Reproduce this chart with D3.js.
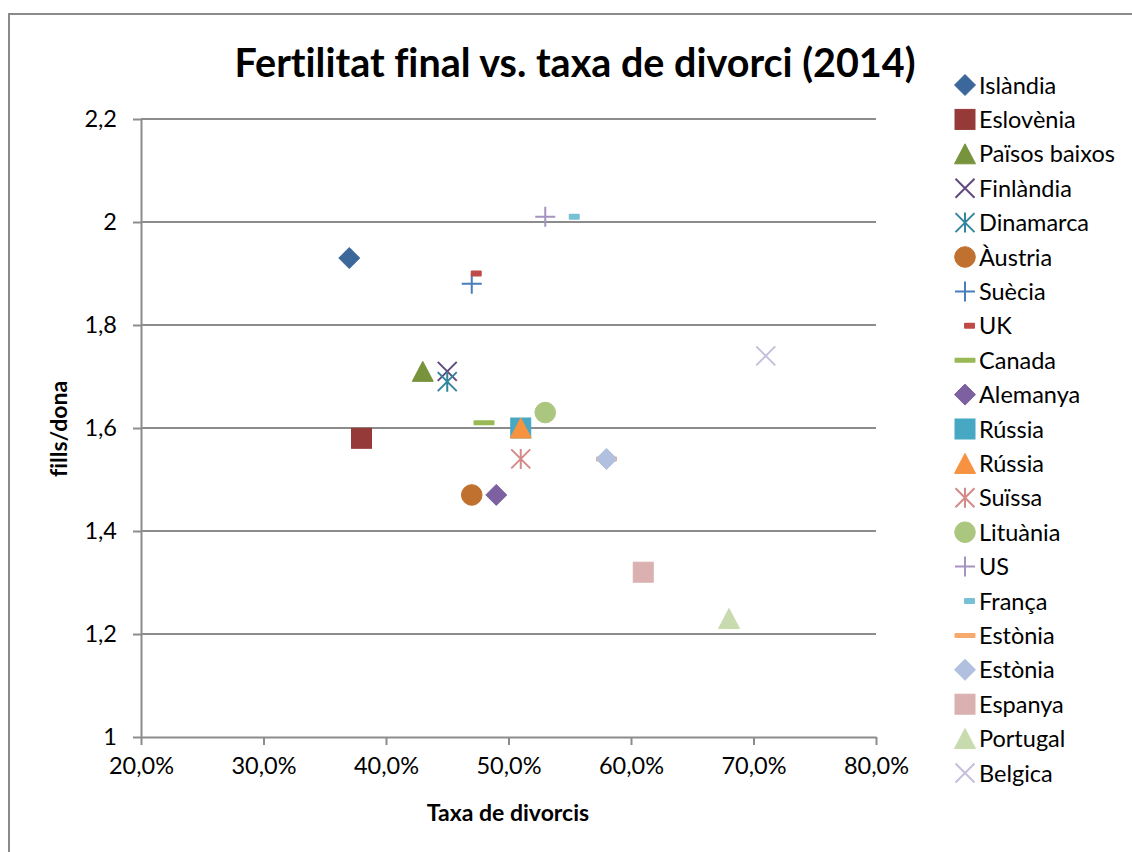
<!DOCTYPE html>
<html>
<head>
<meta charset="utf-8">
<script src="https://cdn.jsdelivr.net/npm/d3@7"></script>
<style>
  body { margin: 0; background: #fff; }
  svg { display: block; font-family: Lato, "Open Sans", sans-serif; font-variant-ligatures: none; }
</style>
</head>
<body>
<svg id="chart" width="1132" height="852"></svg>
<script>
// series, in the order Excel draws them
var countries = ["Islàndia", "Eslovènia", "Països baixos", "Finlàndia", "Dinamarca", "Àustria",
  "Suècia", "UK", "Canada", "Alemanya", "Rússia", "Rússia", "Suïssa", "Lituània", "US",
  "França", "Estònia", "Estònia", "Espanya", "Portugal", "Belgica"];
var divorceRate = [0.37, 0.38, 0.43, 0.45, 0.45, 0.47, 0.47, 0.47, 0.48, 0.49, 0.51, 0.51,
  0.51, 0.53, 0.53, 0.55, 0.58, 0.58, 0.61, 0.68, 0.71];
var fertility = [1.93, 1.58, 1.71, 1.71, 1.69, 1.47, 1.88, 1.90, 1.61, 1.47, 1.60, 1.60,
  1.54, 1.63, 2.01, 2.01, 1.54, 1.54, 1.32, 1.23, 1.74];
var markers = ["diamond", "square", "triangle", "x", "star", "circle", "plus", "dashShort",
  "dashLong", "diamond", "square", "triangle", "star", "circle", "plus", "dashShort",
  "dashLong", "diamond", "square", "triangle", "x"];
var colors = ["#3c679a", "#953a38", "#77933c", "#604a7b", "#31859c", "#c0712f",
  "#4a7ebb", "#be4b48", "#98b954", "#7d60a0", "#46a8c3", "#f69240",
  "#d48a88", "#abc67e", "#a594c0", "#78c0d4", "#f8a96c", "#b0c0de",
  "#dbb0b0", "#c8dbae", "#c6bedb"];

var xTicks = [0.2, 0.3, 0.4, 0.5, 0.6, 0.7, 0.8];
var xTickLabels = ["20,0%", "30,0%", "40,0%", "50,0%", "60,0%", "70,0%", "80,0%"];
var yTicks = [1, 1.2, 1.4, 1.6, 1.8, 2, 2.2];
var yTickLabels = ["1", "1,2", "1,4", "1,6", "1,8", "2", "2,2"];

var svg = d3.select("#chart");
var gridColor = "#8c8c8c";

var x = d3.scaleLinear().domain([0.2, 0.8]).range([141, 876]);
var y = d3.scaleLinear().domain([1, 2.2]).range([737, 119]);

// chart frame
svg.append("rect")
  .attr("x", 9).attr("y", 14)
  .attr("width", 1140).attr("height", 860)
  .attr("fill", "#fff")
  .attr("stroke", "#8a8a8a").attr("stroke-width", 2);

// title
svg.append("text")
  .attr("x", 575).attr("y", 77)
  .attr("text-anchor", "middle")
  .style("font-size", "39.5px").style("font-weight", "bold")
  .text("Fertilitat final vs. taxa de divorci (2014)");

// gridlines
svg.append("g").selectAll("line")
  .data(yTicks.slice(1))
  .enter().append("line")
  .attr("x1", x(0.2)).attr("x2", x(0.8))
  .attr("y1", function(d){ return y(d); })
  .attr("y2", function(d){ return y(d); })
  .attr("stroke", gridColor).attr("stroke-width", 2);

// axes
var yAxis = d3.axisLeft(y)
  .tickValues(yTicks)
  .tickFormat(function(d, i){ return yTickLabels[i]; })
  .tickSizeInner(8).tickSizeOuter(0).tickPadding(16);
var xAxis = d3.axisBottom(x)
  .tickValues(xTicks)
  .tickFormat(function(d, i){ return xTickLabels[i]; })
  .tickSizeInner(8).tickSizeOuter(0).tickPadding(12);

var gy = svg.append("g").attr("transform", "translate(" + x(0.2) + ",0)").call(yAxis);
var gx = svg.append("g").attr("transform", "translate(0," + y(1) + ")").call(xAxis);

[gx, gy].forEach(function(g){
  g.select(".domain").attr("stroke", gridColor).attr("stroke-width", 2);
  g.selectAll(".tick line").attr("stroke", gridColor).attr("stroke-width", 2);
  g.selectAll(".tick text")
    .attr("fill", "#000")
    .style("font-family", "Lato, 'Open Sans', sans-serif")
    .style("font-size", "23.5px");
});

// axis titles
svg.append("text")
  .attr("x", 508).attr("y", 821)
  .attr("text-anchor", "middle")
  .style("font-size", "23px").style("font-weight", "bold")
  .text("Taxa de divorcis");

svg.append("text")
  .attr("transform", "translate(67,429) rotate(-90)")
  .attr("text-anchor", "middle")
  .style("font-size", "23px").style("font-weight", "bold")
  .text("fills/dona");

// marker shapes, drawn around (0,0)
function drawMarker(g, type, color){
  if(type == "diamond"){
    g.append("path").attr("d", "M0,-10.5L10.5,0L0,10.5L-10.5,0Z")
      .attr("fill", color).attr("stroke", color).attr("stroke-width", 1);
  } else if(type == "square"){
    g.append("rect").attr("x", -10).attr("y", -10).attr("width", 20).attr("height", 20)
      .attr("fill", color).attr("stroke", color).attr("stroke-width", 1);
  } else if(type == "triangle"){
    g.append("path").attr("d", "M0,-10L10.5,10L-10.5,10Z")
      .attr("fill", color).attr("stroke", color).attr("stroke-width", 1);
  } else if(type == "circle"){
    g.append("circle").attr("r", 10.3)
      .attr("fill", color).attr("stroke", color).attr("stroke-width", 1);
  } else if(type == "x"){
    g.append("path").attr("d", "M-9.5,-9.5L9.5,9.5M-9.5,9.5L9.5,-9.5")
      .attr("fill", "none").attr("stroke", color).attr("stroke-width", 2);
  } else if(type == "star"){
    g.append("path").attr("d", "M-9.5,-9.5L9.5,9.5M-9.5,9.5L9.5,-9.5M0,-10L0,10")
      .attr("fill", "none").attr("stroke", color).attr("stroke-width", 2);
  } else if(type == "plus"){
    g.append("path").attr("d", "M-10,0L10,0M0,-10L0,10")
      .attr("fill", "none").attr("stroke", color).attr("stroke-width", 2);
  } else if(type == "dashShort"){
    g.append("rect").attr("x", -1).attr("y", -3).attr("width", 11).attr("height", 6)
      .attr("rx", 1).attr("fill", color);
  } else if(type == "dashLong"){
    g.append("rect").attr("x", -10.5).attr("y", -2.5).attr("width", 21).attr("height", 5)
      .attr("rx", 1).attr("fill", color);
  }
}

// points
var points = svg.append("g").selectAll("g")
  .data(countries)
  .enter().append("g")
  .attr("transform", function(d, i){
    return "translate(" + x(divorceRate[i]) + "," + y(fertility[i]) + ")";
  });
points.each(function(d, i){ drawMarker(d3.select(this), markers[i], colors[i]); });

// legend
var legend = svg.append("g").selectAll("g")
  .data(countries)
  .enter().append("g")
  .attr("transform", function(d, i){ return "translate(965," + (85 + i * 34.4) + ")"; });
legend.each(function(d, i){
  var g = d3.select(this);
  drawMarker(g, markers[i], colors[i]);
  g.append("text")
    .attr("x", 14).attr("y", 8.5)
    .style("font-size", "23.5px")
    .text(d);
});
</script>
</body>
</html>
